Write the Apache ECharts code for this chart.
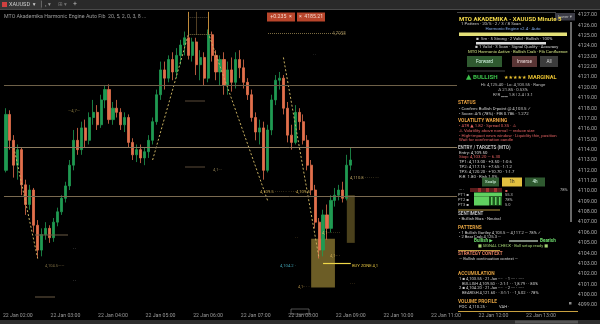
<!DOCTYPE html>
<html><head><meta charset="utf-8">
<script src="https://cdn.jsdelivr.net/npm/echarts@6/dist/echarts.min.js"></script>
<style>html,body{margin:0;padding:0;background:#000}#c{width:600px;height:324px}</style>
</head><body><div id="c"></div>
<script>
// ---- data ----
const opens  = [4112.0,4117.4,4114.9,4112.5,4114.0,4110.6,4108.7,4110.1,4106.7,4104.3,4105.8,4106.4,4105.5,4107.0,4108.0,4109.3,4110.5,4112.5,4114.9,4114.0,4116.1,4114.9,4117.1,4117.6,4116.4,4118.8,4119.8,4116.9,4118.0,4117.6,4116.4,4117.1,4114.7,4113.5,4114.0,4113.2,4113.8,4114.9,4116.7,4119.3,4121.7,4120.9,4122.7,4121.5,4123.1,4124.1,4124.8,4123.1,4124.4,4122.2,4122.9,4120.9,4125.1,4123.1,4121.5,4122.7,4120.2,4121.7,4120.5,4122.7,4121.9,4120.5,4119.3,4117.1,4115.7,4116.1,4112.0,4115.9,4118.8,4120.7,4120.9,4118.0,4115.4,4114.7,4117.6,4116.7,4114.9,4112.5,4110.1,4107.0,4104.3,4107.7,4106.4,4109.1,4109.6,4110.1,4109.3,4112.5];
const closes = [4117.4,4114.9,4112.5,4114.0,4110.6,4108.7,4110.1,4106.7,4104.3,4105.8,4106.4,4105.5,4107.0,4108.0,4109.3,4110.5,4112.5,4114.9,4114.0,4116.1,4114.9,4117.1,4117.6,4116.4,4118.8,4119.8,4116.9,4118.0,4117.6,4116.4,4117.1,4114.7,4113.5,4114.0,4113.2,4113.8,4114.9,4116.7,4119.3,4121.7,4120.9,4122.7,4121.5,4123.1,4124.1,4124.8,4123.1,4124.4,4122.2,4122.9,4120.9,4125.1,4123.1,4121.5,4122.7,4120.2,4121.7,4120.5,4122.7,4121.9,4120.5,4119.3,4117.1,4115.7,4116.1,4112.0,4115.9,4118.8,4120.7,4120.9,4118.0,4115.4,4114.7,4117.6,4116.7,4114.9,4112.5,4110.1,4107.0,4104.3,4107.7,4106.4,4109.1,4109.6,4110.1,4109.3,4112.5,4113.0];
const lows   = [4111.8,4114.0,4111.3,4111.1,4109.6,4107.7,4108.2,4106.0,4103.5,4103.7,4105.3,4105.0,4105.1,4106.6,4107.7,4108.9,4110.1,4112.0,4113.5,4113.5,4114.2,4114.5,4116.4,4115.9,4116.1,4118.0,4116.5,4116.4,4117.1,4115.9,4115.7,4114.2,4113.0,4112.8,4112.7,4112.5,4113.2,4114.5,4116.4,4118.8,4119.8,4120.5,4120.7,4120.9,4122.2,4123.1,4122.7,4122.5,4121.2,4120.7,4120.2,4120.5,4122.5,4120.7,4120.2,4119.3,4119.3,4119.6,4119.9,4120.9,4119.9,4118.8,4116.7,4114.9,4114.5,4111.1,4111.8,4115.4,4118.3,4119.8,4117.4,4114.7,4114.0,4114.5,4115.9,4114.5,4112.0,4109.6,4106.4,4103.5,4103.7,4105.3,4106.0,4108.5,4109.1,4108.9,4109.1,4112.0];
const highs  = [4118.0,4117.8,4115.4,4114.5,4114.2,4111.1,4110.6,4110.3,4107.2,4106.4,4107.0,4106.7,4107.4,4108.4,4109.6,4110.9,4113.0,4115.9,4116.1,4116.7,4116.9,4117.6,4118.8,4118.3,4119.3,4120.2,4120.3,4118.6,4118.8,4118.0,4117.6,4117.4,4115.1,4114.5,4114.5,4114.2,4115.4,4117.1,4119.8,4122.5,4122.5,4123.1,4123.4,4123.8,4124.6,4125.4,4125.3,4124.8,4124.8,4123.6,4123.4,4125.6,4125.4,4123.6,4123.1,4123.4,4122.5,4122.9,4123.4,4123.6,4122.7,4120.9,4119.8,4117.6,4116.9,4116.7,4116.4,4119.3,4121.2,4121.5,4121.2,4118.6,4116.4,4118.3,4118.0,4117.4,4115.4,4113.0,4110.6,4107.4,4108.2,4108.7,4109.6,4110.3,4110.6,4110.9,4113.5,4114.2];
const levelLines = [4120.2, 4114.2, 4109.5];
const zigzagA = [[2,4114.2],[8,4103.5]];
const zigzagB = [[37,4113.0],[46,4125.1]];
const zigzagC = [[51,4125.3],[66,4109.1]];
const zigzagD = [[70,4122.9],[79,4103.5]];
const totalSlots = 144;
const yMin = 4098.5, yMax = 4127.5;

// categories: 5-minute slots
const categories = [];
for (let i = 0; i < totalSlots; i++) {
  const m = 105 + i * 5; // start 01:45
  const h = Math.floor(m / 60), mm = m % 60;
  categories.push('22 Jan ' + String(h).padStart(2,'0') + ':' + String(mm).padStart(2,'0'));
}
const candles = opens.map((o, i) => [o, closes[i], lows[i], highs[i]]);
const lastClose = closes[closes.length - 1];

const F = 'Roboto, "DejaVu Sans", sans-serif';
function T(x, y, text, fill, size, bold, align) {
  return {type:'text', x:x, y:y, z:100, silent:true,
    style:{text:text, fill:fill, font:(bold?'bold ':'') + size + 'px ' + F, verticalAlign:'middle', textVerticalAlign:'middle', align:align||'left', textAlign:align||'left'}};
}
function R(x, y, w, h, fill, z) {
  return {type:'rect', z:z||100, silent:true, shape:{x:x, y:y, width:w, height:h}, style:{fill:fill}};
}
function L(x1, y1, x2, y2, stroke, w, dash) {
  return {type:'line', z:100, silent:true, shape:{x1:x1,y1:y1,x2:x2,y2:y2}, style:{stroke:stroke, lineWidth:w||1, lineDash:dash||null}};
}

const G = [];
// tab bar
G.push(R(0,0,600,9,'#2a2a2a'));
G.push(R(0,0,42,9,'#363636'));
G.push(R(2,2,5,5,'#d04040'));
G.push(T(9,4.6,'XAUUSD  ▾','#cfcfcf',5.5));
G.push(T(40,4.6,'│ ₁ ▾','#9a9a9a',5.5));
G.push(T(58,4.6,'⊞ ▾','#777',5.5));
G.push(T(73,4.6,'+','#bbb',7));
G.push(L(0,9.5,600,9.5,'#4a4a4a',1));
// bottom scroll strip
G.push(R(0,320,600,4,'#2e2e2e'));
G.push(R(515,320.5,63,3,'#555'));
// top-left title
G.push(T(4,17,'MTO Akademika Harmonic Engine Auto Fib  20, 5, 2, 0, 3, 8 ...','#9c9c9c',5.3));
// top red boxes
G.push(R(267,12.5,28,9,'#b8452b'));
G.push(T(281,17,'+0.235  ×','#f4d8cc',5.2,false,'center'));
G.push(R(297,12.5,28,9,'#b8452b'));
G.push(T(311,17,'×  4185.21','#f4d8cc',5.2,false,'center'));
G.push(L(268,33.5,345,33.5,'#7a6a40',1,[1,1]));
G.push(T(330,33.5,'· 4,7958','#8a7a50',4.5));
G.push(T(313,55,'· ·','#777',4));
// small chart annotations
G.push(L(185,101,205,101,'#5a4a38',1));
G.push(L(185,167,205,167,'#5a4a38',1));
G.push(T(213,170,'4,1··· ','#8a7a50',4.2));
G.push(T(68,111,'—4,7—','#8a7a40',4.2));
G.push(L(35,235,68,235,'#6a5a45',1));
G.push(L(35,297,55,297,'#6a5a45',1));
G.push(T(45,266,'4,104.5——','#7a6a40',4));
G.push(T(73,249,'· ·','#aaa',4));
G.push(T(73,281,'· ·','#aaa',4));
G.push(T(260,192,'4,109.5 · · · · · ·  · · · ·4,109.5','#c8a850',4.2));
G.push(T(350,178,'4,110.8 · · · · · · ·','#b8a060',4.2));
G.push(T(322,233,'4,1·· · · · · ·','#c8b060',4.2));
G.push(T(280,266,'4,104.2 ·','#40a0b0',4.2));
G.push(T(352,266,'BUY ZONE 4,1','#e0c040',4.2));
G.push(T(330,256,'4,1·· ·','#c0a050',4.2));
G.push(T(350,284,'· · ·','#a08040',4));
G.push(T(298,287,'4,1·· · ·','#a08040',4));
G.push(T(295,238,'· ·','#a08040',4));
// x-axis highlighted time box
G.push({type:'rect', z:100, silent:true, shape:{x:291,y:309,width:18,height:5}, style:{fill:'none', stroke:'#888', lineWidth:0.6}});

// ---- panel ----
G.push(R(457,12,121,300,'#000',90));
G.push(L(457,12.5,556,12.5,'#444',1));
G.push(R(555,13,20,7.5,'#3b3b45'));
G.push(T(565,16.8,'lower ▾','#bbb',4.3,false,'center'));
G.push(R(570,22,2,200,'#6a6a6a'));
G.push(R(569,302,2.5,2.5,'#888'));
G.push(T(459,19,'MTO AKADEMIKA - XAUUSD Minute 5','#f2d84a',6,true));
G.push(T(461,24,'1 Pattern · 20/5 · 2 / 3 / 8 Scan','#c8c8c8',4.4));
G.push(T(513,28.5,'Harmonic Engine v2.4 · Auto','#7fa8e8',4.4,false,'center'));
G.push(R(459,32.5,108,3.5,'#e4e078'));
G.push(T(476,38.5,'▪  5m · 5 Strong · 2 Valid · Bullish · 100%','#cfcfcf',4.3));
G.push(R(476,42,70,2.5,'#dcdcdc'));
G.push(T(475,47,'▪ 1 Valid · 3 Scan · Signal Quality · Accuracy','#cfcfcf',4.3));
G.push(T(468,51.5,'MTO Harmonic Active · Bullish Crab · Fib Confluence','#cfe080',4.3));
G.push(R(467,56,35,11,'#2f5a30'));
G.push(T(484.5,61.5,'Forward','#dfe',4.6,false,'center'));
G.push(R(512,56,25,11,'#5a3535'));
G.push(T(524.5,61.5,'Inverse','#edd',4.6,false,'center'));
G.push(R(540,56,18,11,'#3c3c3c'));
G.push(T(549,61.5,'All','#ddd',4.6,false,'center'));
G.push(L(467,71,505,71,'#555',0.8));
G.push(T(466,77.5,'▲','#3cc04a',7));
G.push(T(473,77.5,'BULLISH','#3cc04a',6.2,true));
G.push(T(504,77.5,'★★★★★','#e8c030',5));
G.push(T(528,77.5,'MARGINAL','#e8c030',5.6,true));
G.push(T(513,85,'Hi: 4,125.40 · Lo: 4,103.55 · Range','#bdbdbd',4.3,false,'center'));
G.push(T(513,90,'Δ 21.85 · 0.53%','#bdbdbd',4.3,false,'center'));
G.push(T(513,95,'R/R ▁▁ 1.8 | 2.4 | 3.1','#bdbdbd',4.3,false,'center'));
G.push(T(458,103,'STATUS','#e8a040',4.8,true));
G.push(T(459,108.5,'• Confirm: Bullish D-point @ 4,103.5 ✓','#cfcfcf',4.3));
G.push(T(459,113.5,'• Score: 4/5 (78%) · FIB 0.786 · 1.272','#cfcfcf',4.3));
G.push(T(458,121,'VOLATILITY WARNING','#e8a040',4.8,true));
G.push(T(459,126,'• ATR ▲ 1.82 · Spread 0.35 · ⚠','#e06060',4.3));
G.push(T(459,131,'⚠ Volatility above normal — reduce size','#e06060',4.3));
G.push(T(459,135.5,'• High-impact news window · Liquidity thin, position','#e06060',4.3));
G.push(T(459,139.5,'Wait for confirmation candle','#e06060',4.3));
G.push(T(458,148,'ENTRY / TARGETS (MTO)','#bdbdbd',4.6,true));
G.push(T(459,152.5,'Entry: 4,109.50','#dcdcdc',4.3));
G.push(T(459,157,'Stop: 4,103.20 — 6.30','#e06060',4.3));
G.push(T(459,162,'TP1: 4,113.00 · +3.50 · 1:0.6','#cfcfcf',4.3));
G.push(T(459,167,'TP2: 4,117.15 · +7.65 · 1:1.2','#cfcfcf',4.3));
G.push(T(459,172,'TP3: 4,120.20 · +10.70 · 1:1.7','#cfcfcf',4.3));
G.push(T(459,176.5,'R:R  1.80 · Risk 1.0%','#cfcfcf',4.3));
G.push(R(482,177.5,17,9,'#2f5a30'));
G.push(T(490.5,182,'Scalp','#dfe',4.4,false,'center'));
G.push(R(502,177.5,20,9,'#e2c040'));
G.push(T(512,182,'1h','#222',4.6,false,'center'));
G.push(R(525,177.5,20,9,'#2f5a30'));
G.push(T(535,182,'4h','#dfe',4.6,false,'center'));
G.push(T(459,189.5,'— ·','#bdbdbd',4.1));
G.push(T(560,189.5,'78%','#bdbdbd',4.1));
G.push(R(470,188,32,4,'#5a1c1c'));
G.push(R(478,188,3,4,'#a03030'));
G.push(R(486,188,3,4,'#a03030'));
G.push(R(494,188,3,4,'#a03030'));
G.push(R(474,192.5,28,4,'#60d060'));
G.push(R(474,196.5,15,9,'#60d060'));
G.push(R(489,196.5,13,9,'#1e5a1e'));
G.push(R(491,197,1.5,8,'#60d060'));
G.push(R(495,197,1.5,8,'#60d060'));
G.push(R(499,197,1.5,8,'#60d060'));
G.push(T(458,195,'PT1 ▪','#bdbdbd',4));
G.push(T(458,200,'PT2 ▪','#bdbdbd',4));
G.push(T(458,204.5,'PT3 ▪','#bdbdbd',4));
G.push(T(505,191,'▪','#e06060',4));
G.push(T(505,195,'55.3','#bdbdbd',4));
G.push(T(505,200,'78%','#bdbdbd',4));
G.push(T(505,204.5,'5.0','#bdbdbd',4));
G.push(L(458,210,500,210,'#b89a40',1));
G.push(T(458,213.5,'SENTIMENT','#bdbdbd',4.6,true));
G.push(T(459,218.5,'• Bullish Bias · Neutral','#cfcfcf',4.3));
G.push(T(458,228,'PATTERNS','#e0a040',4.8,true));
G.push(T(459,232.5,'• 1 Bullish Gartley 4,103.5 — 4,117.2 — 78% ✓','#cfcfcf',4.1));
G.push(T(459,236.5,'• 2 Bear Crab 4,125.3 ···','#cfcfcf',4.1));
G.push(T(474,241,'Bullish ▶','#70e070',4.6,true));
G.push(L(509,241,538,241,'#cfe0cf',1.2));
G.push(T(540,241,'Bearish','#70e070',4.6,true));
G.push(T(513,245.5,'■ SIGNAL CHECK · Bull setup ready ■','#a0d070',4.1,false,'center'));
G.push(L(458,250.5,500,250.5,'#b89a40',1));
G.push(T(458,253.5,'STRATEGY CONTEXT','#e08060',4.6,true));
G.push(T(459,258.5,'— Bullish continuation context —','#cfcfcf',4.1));
G.push(T(458,273.5,'ACCUMULATION','#e0a040',4.8,true));
G.push(T(459,279,'1 ▪ 4,103.55 · 21 Jan ····   · 1 ···· · ·····','#cfcfcf',4.1));
G.push(T(459,283.5,'   BULLISH 4,109.50 · · 2:1:1 · · 1,8.79 · · 80%','#cfcfcf',4.1));
G.push(T(459,288,'2 ▪ 4,104.20 · 21 Jan ····   · 2 ···· · ·····','#cfcfcf',4.1));
G.push(T(459,292.5,'   BEARISH 4,121.60 · · 3:1:1 · · 1,5.02 · · 78%','#cfcfcf',4.1));
G.push(T(458,301.5,'VOLUME PROFILE','#e0a040',4.8,true));
G.push(T(459,306.5,'POC  4,110.25 ·            VAH ·','#cfcfcf',4.1));
G.push(L(458,311.5,578,311.5,'#c8a040',1.2));

const chart = echarts.init(document.getElementById('c'), null, {renderer:'canvas'});
chart.setOption({
  backgroundColor:'#000',
  animation:false,
  grid:{left:0, right:22, top:9.8, bottom:13.8, containLabel:false},
  xAxis:{type:'category', data:categories, boundaryGap:true,
    axisLine:{show:false}, axisTick:{show:false}, splitLine:{show:false},
    axisLabel:{color:'#9a9a9a', fontSize:5.2, fontFamily:F, margin:3,
      interval:function(i){ return (i - 3) % 12 === 0; }}},
  yAxis:{type:'value', position:'right', min:yMin, max:yMax, interval:0.5, scale:true,
    axisLine:{show:true, lineStyle:{color:'#4a4a4a'}}, axisTick:{show:false}, splitLine:{show:false},
    axisLabel:{color:'#a8a8a8', fontSize:5.3, fontFamily:F, margin:3, showMinLabel:false, showMaxLabel:false,
      formatter:function(v){ return Math.abs(v - Math.round(v)) < 1e-6 ? v.toFixed(2) : ''; }}},
  graphic:G,
  series:[
    {type:'candlestick', data:candles, barMaxWidth:3, barWidth:2.6, clip:false,
      itemStyle:{color:'#1f9a52', color0:'#e2704c', borderColor:'#1f9a52', borderColor0:'#e2704c', borderWidth:0.8},
      markLine:{silent:true, symbol:'none', animation:false,
        data:[
          {yAxis:levelLines[0], lineStyle:{color:'#6e6048', width:1, type:'solid'}, label:{show:false}},
          {yAxis:levelLines[1], lineStyle:{color:'#8c7c60', width:1, type:'solid'}, label:{show:false}},
          {yAxis:levelLines[2], lineStyle:{color:'#7a6a50', width:1, type:'solid'}, label:{show:false}},
          {yAxis:lastClose, lineStyle:{opacity:0}, label:{show:true, position:'end', distance:1,
            formatter:lastClose.toFixed(2), color:'#fff', backgroundColor:'#e05a28', padding:[1.5,2,1,2], fontSize:5.3, fontFamily:F}},
          [{coord:[46,4127.3], lineStyle:{color:'#c08a3a', width:1, type:'solid'}, label:{show:false}},{coord:[46,4125.1]}],
          [{coord:[51,4127.3], lineStyle:{color:'#c08a3a', width:1, type:'solid'}, label:{show:false}},{coord:[51,4125.1]}],
          [{coord:[48,4127.3], lineStyle:{color:'#8a6a3a', width:0.6, type:'solid'}, label:{show:false}},{coord:[48,4125.1]}],
          [{coord:[46,4126.8], lineStyle:{color:'#7a6a50', width:0.6, type:[1,1]}, label:{show:false}},{coord:[51,4126.8]}],
          [{coord:[46,4125.1], lineStyle:{color:'#9a8a50', width:0.8, type:[1,1]}, label:{show:false}},{coord:[52,4125.1]}],
          [{coord:[79.5,4103.05], lineStyle:{color:'#f0d848', width:1.2, type:'solid'}, label:{show:false}},{coord:[87,4103.05]}]
        ]},
      markArea:{silent:true,
        data:[
          [{xAxis:77, yAxis:4105.4, itemStyle:{color:'rgba(196,170,70,0.55)'}},{xAxis:83, yAxis:4100.7}],
          [{xAxis:86, yAxis:4109.6, itemStyle:{color:'rgba(150,130,55,0.5)'}},{xAxis:87.5, yAxis:4105.0}]
        ]}
    },
    {type:'line', data:zigzagA, symbol:'none', silent:true, lineStyle:{color:'#c8b060', width:1, type:[2,2]}},
    {type:'line', data:zigzagB, symbol:'none', silent:true, lineStyle:{color:'#c8b060', width:1, type:[2,2]}},
    {type:'line', data:zigzagC, symbol:'none', silent:true, lineStyle:{color:'#c8b060', width:1, type:[2,2]}},
    {type:'line', data:zigzagD, symbol:'none', silent:true, lineStyle:{color:'#c8b060', width:1, type:[2,2]}}
  ]
});
</script></body></html>
